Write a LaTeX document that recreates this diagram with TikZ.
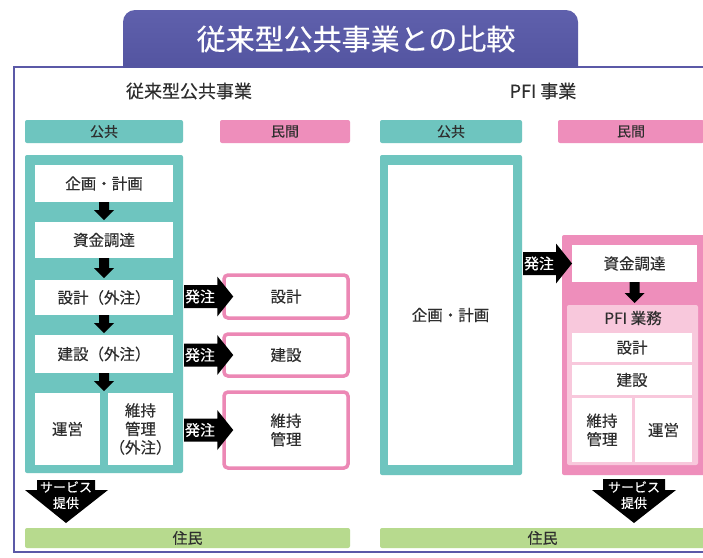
\documentclass[tikz,border=0pt]{standalone}
\usepackage{fontspec}
\setmainfont{Noto Sans CJK JP}[FakeBold=0.35]
\usetikzlibrary{calc}
\definecolor{frameblue}{HTML}{5B59A7}
\definecolor{bannerA}{HTML}{5F60AC}
\definecolor{bannerB}{HTML}{4F509C}
\definecolor{tealc}{HTML}{6EC5BF}
\definecolor{pinkbar}{HTML}{EE8EBB}
\definecolor{pinkline}{HTML}{EC88B5}
\definecolor{pinklight}{HTML}{F8C8DC}
\definecolor{residentgreen}{HTML}{B7DA8E}
\definecolor{ink}{HTML}{2E2E2E}
\newcommand\lblfont{\fontsize{15.5}{18.5}\selectfont}
\newcommand\barfont{\fontsize{14}{16}\selectfont}
% small black block arrow from box #1 down to box #2
\newcommand\myDown[2]{%
  \fill[black] let \p1=(#1.south), \p2=(#2.north) in
    (\x1-5pt,\y1) -- (\x1+5pt,\y1) -- (\x1+5pt,\y2+12pt) -- (\x1+10pt,\y2+12pt)
    -- (\x1,\y2+2pt) -- (\x1-10pt,\y2+12pt) -- (\x1-5pt,\y2+12pt) -- cycle;}
% black "発注" block arrow from panel #1 to box #2, tip #3 beyond the box west side
\newcommand\myHatchu[3]{%
  \fill[black] let \p1=(#1.east), \p2=(#2.west) in
    (\x1+1pt,\y2+11.5pt) -- (\x2+#3-16pt,\y2+11.5pt) -- (\x2+#3-16pt,\y2+20pt)
    -- (\x2+#3,\y2) -- (\x2+#3-16pt,\y2-20pt) -- (\x2+#3-16pt,\y2-11.5pt)
    -- (\x1+1pt,\y2-11.5pt) -- cycle
    (\x1+17pt,\y2) node[wtxt]{発注};}
\begin{document}
\begin{tikzpicture}[x=1pt,y=-1pt,
  wtxt/.style={text=white, font=\fontsize{15}{17}\selectfont, inner sep=0},
  wbox/.style={fill=white, text=ink, font=\lblfont, align=center, inner sep=0, outer sep=0},
  pbox/.style={draw=pinkline, line width=3.5pt, rounded corners=4, fill=white, text=ink,
    font=\lblfont, align=center, inner sep=0},
  bar/.style={inner sep=0, rounded corners=2, text=ink, font=\barfont, minimum height=23},
  panel/.style={inner sep=0, outer sep=0, rounded corners=2},
  heading/.style={text=ink, font=\fontsize{18}{20}\selectfont, inner sep=0},
  resident/.style={fill=residentgreen, inner sep=0, rounded corners=2, minimum height=20,
    text=ink, font=\fontsize{15}{17}\selectfont},
  svc/.style={text=white, font=\fontsize{13}{15}\selectfont, inner sep=0}
]
\useasboundingbox (0,0) rectangle (703,557);
\fill[white] (0,0) rectangle (703,557);
\clip (0,0) rectangle (703,557);

% frame and banner
\draw[frameblue, line width=2pt] (720,67) -- (14,67) -- (14,552) -- (720,552);
\begin{scope}
  \clip (0,0) rectangle (703,67);
  \shade[top color=bannerA, bottom color=bannerB, rounded corners=12] (123,10) rectangle (578,90);
\end{scope}
\node[text=white, font=\fontsize{29}{31}\selectfont, inner sep=0] (title) at (356,39) {従来型公共事業との比較};

% headings
\node[heading] (hleft) at (189,91) {従来型公共事業};
\node[heading] (hright) at (543,91) {PFI 事業};

% ---------- left: conventional ----------
\node[bar, fill=tealc, minimum width=158] (pubL) at (104,131.5) {公共};
\node[bar, fill=pinkbar, minimum width=130] (privL) at (285,131.5) {民間};

\node[panel, fill=tealc, minimum width=158, minimum height=318] (panelL) at (104,314) {};
\node[wbox, minimum width=138, minimum height=37] (planL) at (104,183.5) {企画・計画};
\node[wbox, minimum width=138, minimum height=36] (fundL) at (104,240) {資金調達};
\node[wbox, minimum width=138, minimum height=35] (designL) at (104,297.5) {設計（外注）};
\node[wbox, minimum width=138, minimum height=38] (buildL) at (104,354) {建設（外注）};
\node[wbox, minimum width=65, minimum height=72] (opsL) at (67.5,429) {運営};
\node[wbox, minimum width=65, minimum height=72] (maintL) at (140.5,429) {維持\\管理\\（外注）};
\coordinate (bottomL) at (104,393);

\myDown{planL}{fundL}
\myDown{fundL}{designL}
\myDown{designL}{buildL}
\myDown{buildL}{bottomL}

\node[pbox, minimum width=124, minimum height=43] (pdesignL) at (286,296.5) {設計};
\node[pbox, minimum width=124, minimum height=42] (pbuildL) at (286,355) {建設};
\node[pbox, minimum width=124, minimum height=76] (pmaintL) at (286,430) {維持\\管理};

\myHatchu{panelL}{pdesignL}{11pt}
\myHatchu{panelL}{pbuildL}{11pt}
\myHatchu{panelL}{pmaintL}{11pt}

% service arrow left
\fill[black] (37,480) -- (95,480) -- (95,490) -- (108,490) -- (66,523) -- (25,490) -- (37,490) -- cycle;
\node[svc] (svcL1) at (66,487) {サービス};
\node[svc] (svcL2) at (66,503) {提供};

\node[resident, minimum width=325] (resL) at (187.5,538) {住民};

% ---------- right: PFI ----------
\node[bar, fill=tealc, minimum width=142] (pubR) at (451,131.5) {公共};
\node[bar, fill=pinkbar, minimum width=146] (privR) at (631,131.5) {民間};

\node[panel, fill=tealc, minimum width=142, minimum height=320] (panelR) at (451,315) {};
\node[wbox, minimum width=125, minimum height=300] (planR) at (450.5,315) {企画・計画};

\node[panel, fill=pinkbar, minimum width=143, minimum height=240] (panelP) at (633.5,355) {};
\node[wbox, minimum width=125, minimum height=37] (fundR) at (634.5,263.5) {資金調達};
\node[panel, fill=pinklight, minimum width=131, minimum height=160] (pfi) at (632.5,385) {};
\node[text=ink, font=\lblfont, inner sep=0] (pfilbl) at (633,318) {PFI 業務};
\node[wbox, minimum width=120, minimum height=29] (designR) at (632,347.5) {設計};
\node[wbox, minimum width=120, minimum height=30] (buildR) at (632,380) {建設};
\node[wbox, minimum width=60, minimum height=64] (maintR) at (602,430) {維持\\管理};
\node[wbox, minimum width=57, minimum height=64] (opsR) at (663.5,430) {運営};

\myDown{fundR}{pfi}
\myHatchu{panelR}{fundR}{0pt}

% service arrow right
\fill[black] (603,479) -- (665,479) -- (665,490) -- (676,490) -- (634,523) -- (592,490) -- (603,490) -- cycle;
\node[svc] (svcR1) at (634,487) {サービス};
\node[svc] (svcR2) at (634,503) {提供};

\node[resident, minimum width=325] (resR) at (542.5,538) {住民};
\end{tikzpicture}
\end{document}
